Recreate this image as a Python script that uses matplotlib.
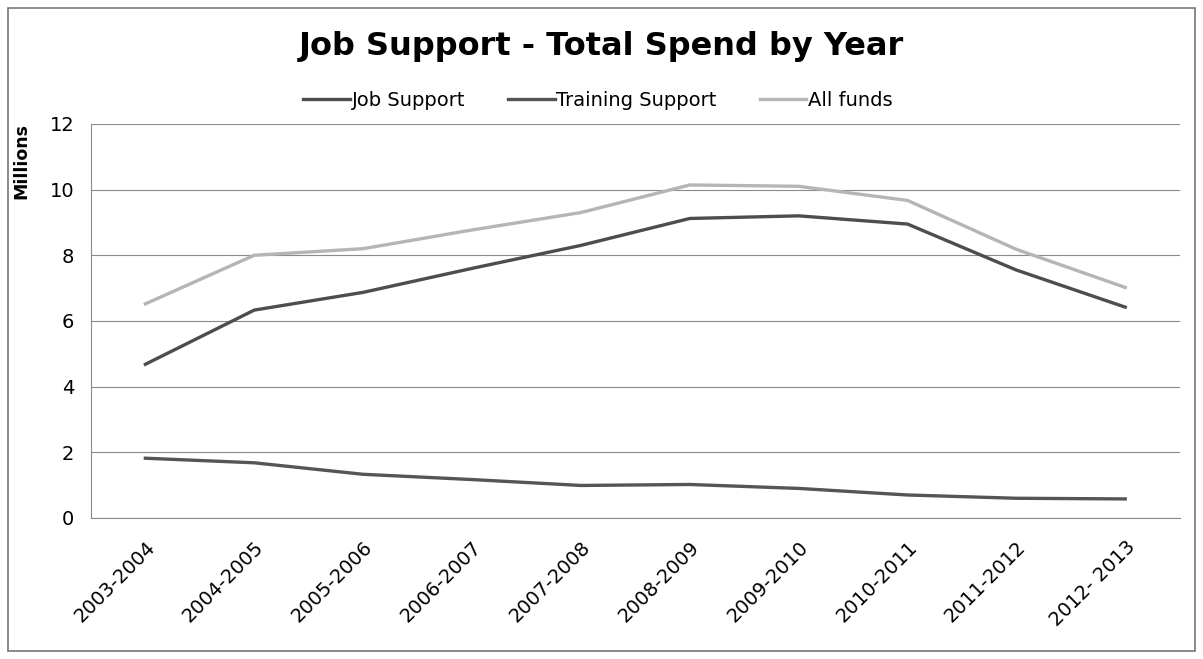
import matplotlib
matplotlib.use('Agg')
import matplotlib.pyplot as plt
from matplotlib.patches import Rectangle

# data (millions)
years = ['2003-2004', '2004-2005', '2005-2006', '2006-2007', '2007-2008',
         '2008-2009', '2009-2010', '2010-2011', '2011-2012', '2012- 2013']
job_support = [4.68, 6.33, 6.87, 7.6, 8.3, 9.12, 9.2, 8.95, 7.55, 6.42]
training_support = [1.82, 1.68, 1.33, 1.17, 0.99, 1.02, 0.9, 0.7, 0.6, 0.58]
all_funds = [6.52, 8.0, 8.2, 8.77, 9.3, 10.14, 10.1, 9.67, 8.18, 7.02]

fig = plt.figure(figsize=(12.03, 6.59), dpi=100)
ax = fig.add_axes([0.0756, 0.214, 0.905, 0.598])

x = range(len(years))
ax.plot(x, job_support, color='#4d4d4d', lw=2.4, label='Job Support')
ax.plot(x, training_support, color='#555555', lw=2.4, label='Training Support')
ax.plot(x, all_funds, color='#b5b5b5', lw=2.4, label='All funds')

ax.set_xlim(-0.5, len(years) - 0.5)
ax.set_ylim(0, 12)
ax.set_yticks(range(0, 13, 2))
ax.set_xticks(list(x))
ax.set_xticklabels(years, rotation=45, ha='right', rotation_mode='anchor', fontsize=14)
ax.tick_params(axis='y', labelsize=14, length=0, pad=12)
ax.tick_params(axis='x', length=0, pad=14)
ax.grid(axis='y', color='#8a8a8a', lw=0.8)
ax.set_axisbelow(True)
for s in ['top', 'right']:
    ax.spines[s].set_visible(False)
for s in ['left', 'bottom']:
    ax.spines[s].set_color('#8a8a8a')
    ax.spines[s].set_linewidth(0.8)

fig.text(0.5, 0.93, 'Job Support - Total Spend by Year', ha='center', va='center',
         fontsize=23, fontweight='bold')
fig.text(0.018, 0.755, 'Millions', rotation=90, ha='center', va='center',
         fontsize=12.5, fontweight='bold')
fig.legend(loc='center', bbox_to_anchor=(0.497, 0.848), ncol=3, frameon=False,
           fontsize=14, handlelength=2.4, handletextpad=0.1, columnspacing=2.2)

# outer chart border
fig.patches.append(Rectangle((0.007, 0.012), 0.986, 0.976, transform=fig.transFigure,
                             fill=False, edgecolor='#777777', lw=1.2))

fig.savefig('out.png', dpi=100)
